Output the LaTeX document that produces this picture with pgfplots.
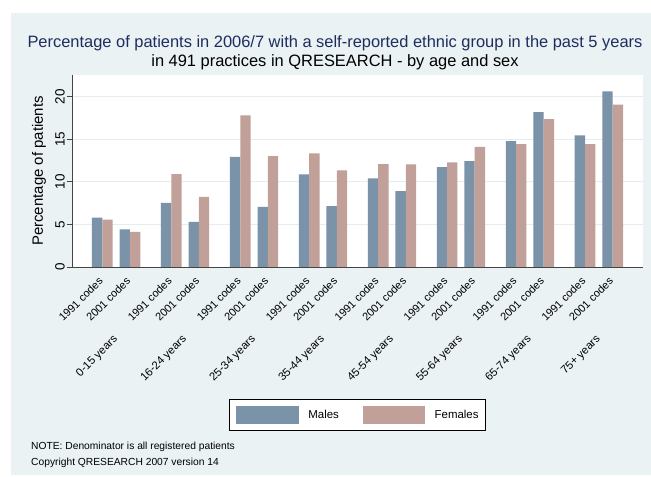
\documentclass[border=0pt]{standalone}
\usepackage{pgfplots}
\pgfplotsset{compat=1.18}
\usepackage{pgfplotstable}
\usepackage{fontspec}
\setmainfont{Liberation Sans}
\definecolor{panel}{HTML}{EAF2F3}
\definecolor{male}{HTML}{7A93A8}
\definecolor{female}{HTML}{C0A098}
\definecolor{titleblue}{HTML}{1E2D5F}
\definecolor{gridc}{HTML}{E4EDF0}
\definecolor{axisc}{HTML}{444444}

\pgfplotstableread{
x male female
0 5.81 5.57
1 4.43 4.12
2.5 7.53 10.90
3.5 5.30 8.24
5 12.94 17.80
6 7.06 13.02
7.5 10.87 13.34
8.5 7.14 11.34
10 10.40 12.08
11 8.90 12.05
12.5 11.73 12.28
13.5 12.44 14.12
15 14.79 14.44
16 18.20 17.38
17.5 15.46 14.44
18.5 20.63 19.06
}\datatable

\begin{document}
\begin{tikzpicture}
\useasboundingbox (0bp,0bp) rectangle (651bp,477bp);
\fill[white] (0bp,0bp) rectangle (651bp,477bp);
\fill[panel] (11bp,2bp) rectangle (651bp,464bp);
\begin{axis}[
  at={(72bp,210bp)}, anchor=south west,
  scale only axis, width=571bp, height=192bp,
  xmin=-1.1, xmax=19.6, ymin=0, ymax=22.55,
  axis background/.style={fill=white},
  axis x line*=bottom, axis y line*=left,
  axis line style={axisc, line width=0.8bp},
  ytick={0,5,10,15,20},
  ymajorgrids, grid style={gridc, line width=0.9bp},
  tick align=outside, major tick length=5bp,
  ytick style={axisc, line width=0.8bp},
  xtick style={draw=none},
  /pgf/number format/assume math mode=true,
  yticklabel style={xshift=-2bp, rotate=90, anchor=south, inner sep=0pt, font=\fontsize{13.5}{16}\selectfont},
  xtick={0,1,2.5,3.5,5,6,7.5,8.5,10,11,12.5,13.5,15,16,17.5,18.5},
  xticklabels={1991 codes,2001 codes,1991 codes,2001 codes,1991 codes,2001 codes,1991 codes,2001 codes,1991 codes,2001 codes,1991 codes,2001 codes,1991 codes,2001 codes,1991 codes,2001 codes},
  xticklabel style={xshift=-1.5bp, yshift=-7bp, rotate=45, anchor=east, inner sep=0pt, font=\fontsize{11}{13}\selectfont},
  extra x ticks={0.5,3,5.5,8,10.5,13,15.5,18},
  extra x tick labels={0-15 years,16-24 years,25-34 years,35-44 years,45-54 years,55-64 years,65-74 years,75+ years},
  extra x tick style={grid=none, xtick style={draw=none},
    every x tick label/.style={yshift=-65.5bp, rotate=45, anchor=east, inner sep=0pt, font=\fontsize{11.3}{13}\selectfont}},
  ylabel={Percentage of patients},
  every axis y label/.style={at={(axis description cs:0,0.5)}, xshift=-33bp, rotate=90, anchor=center, font=\fontsize{15}{18}\selectfont},
  legend style={at={(0.5,-0.771)}, anchor=center, legend columns=2, draw=black, line width=0.8bp, fill=white,
    inner xsep=6.7bp, inner ysep=7bp, font=\fontsize{11.5}{13.8}\selectfont, nodes={inner sep=0pt},
    /tikz/every odd column/.append style={column sep=9.3bp},
    /tikz/every even column/.append style={column sep=23.7bp}},
]
\addplot[ybar, bar width=0.375, bar shift=-0.1875, fill=male, draw=none,
  legend image code/.code={\fill[male] (0bp,-8.2bp) rectangle (62.7bp,9.1bp);}]
  table[x=x, y=male] {\datatable};
\addlegendentry{Males}
\addplot[ybar, bar width=0.375, bar shift=0.1875, fill=female, draw=none,
  legend image code/.code={\fill[female] (0bp,-8.2bp) rectangle (62.7bp,9.1bp);}]
  table[x=x, y=female] {\datatable};
\addlegendentry{Females}
\end{axis}
\node[anchor=base, font=\fontsize{16.5}{20}\selectfont, text=titleblue, inner sep=0pt] at (335bp,429.3bp)
  {Percentage of patients in 2006/7 with a self-reported ethnic group in the past 5 years};
\node[anchor=base, font=\fontsize{16.5}{20}\selectfont, text=black, inner sep=0pt] at (335bp,410.5bp)
  {in 491 practices in QRESEARCH - by age and sex};
\node[anchor=base west, font=\fontsize{10.3}{12}\selectfont, inner sep=0pt] at (31bp,28bp)
  {NOTE: Denominator is all registered patients};
\node[anchor=base west, font=\fontsize{10.3}{12}\selectfont, inner sep=0pt] at (31bp,11.3bp)
  {Copyright QRESEARCH 2007 version 14};
\end{tikzpicture}
\end{document}
